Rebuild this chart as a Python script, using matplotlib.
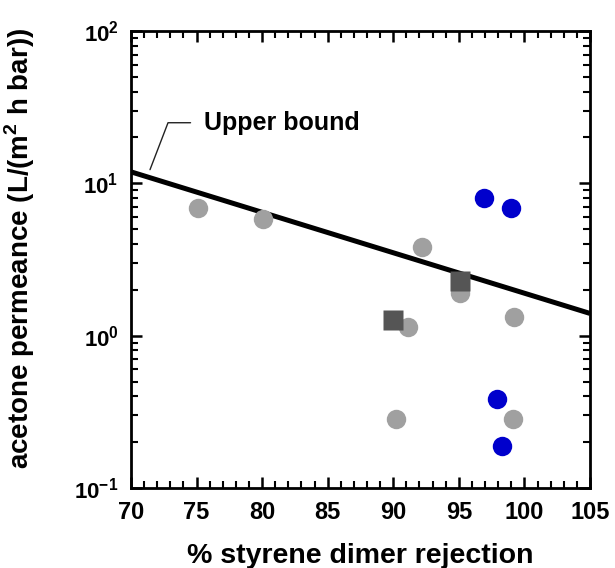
import numpy as np
import matplotlib
matplotlib.use("Agg")
import matplotlib.pyplot as plt
from matplotlib.ticker import MultipleLocator, LogLocator, NullFormatter, FuncFormatter

# ---- data ----
gray_x = [75.1, 80.1, 92.2, 95.1, 91.15, 99.2, 90.2, 99.1]
gray_y = [6.9, 5.8, 3.84, 1.90, 1.14, 1.33, 0.286, 0.286]

blue_x = [96.9, 99.0, 97.9, 98.3]
blue_y = [8.05, 6.85, 0.382, 0.188]

square_x = [90.0, 95.1]
square_y = [1.27, 2.29]

bound_x = [70, 105]
bound_y = [11.9, 1.40]

xlim = (70, 105)
ylim = (0.1, 100)
xticks = [70, 75, 80, 85, 90, 95, 100, 105]

plt.rcParams['font.family'] = ['Liberation Sans', 'DejaVu Sans']
plt.rcParams['font.weight'] = 'bold'
plt.rcParams['mathtext.fontset'] = 'custom'
plt.rcParams['mathtext.bf'] = 'Liberation Sans:bold'
plt.rcParams['mathtext.rm'] = 'Liberation Sans:bold'

fig = plt.figure(figsize=(6.15, 5.68), dpi=100)
ax = fig.add_axes([0.2130, 0.1408, 0.7463, 0.8046])

ax.plot(bound_x, bound_y, color='black', lw=3.6, solid_capstyle='butt', zorder=3)
ax.plot(gray_x, gray_y, 'o', ls='none', ms=14, color='#a0a0a0', mec='none', zorder=4)
ax.plot(blue_x, blue_y, 'o', ls='none', ms=14, color='#0000cc', mec='none', zorder=4)
ax.plot(square_x, square_y, 's', ls='none', ms=15, color='#555555', mec='none', zorder=5)

ax.set_yscale('log')
ax.set_xlim(*xlim)
ax.set_ylim(*ylim)
ax.set_xticks(xticks)
ax.xaxis.set_minor_locator(MultipleLocator(1))
ax.yaxis.set_major_locator(LogLocator(base=10, numticks=10))
ax.yaxis.set_minor_locator(LogLocator(base=10, subs=np.arange(2, 10), numticks=20))
ax.yaxis.set_minor_formatter(NullFormatter())
ax.yaxis.set_major_formatter(FuncFormatter(lambda v, p: r'$\mathbf{10^{%d}}$' % int(round(np.log10(v)))))

for s in ax.spines.values():
    s.set_linewidth(2.0)

ax.tick_params(which='both', direction='in', top=True, right=True)
ax.tick_params(which='major', length=8, width=1.8, pad=9)
ax.tick_params(which='minor', length=5, width=1.5)
ax.tick_params(axis='x', which='major', labelsize=17)
ax.tick_params(axis='y', which='major', labelsize=16)
for lab in ax.get_xticklabels():
    lab.set_fontweight('bold')

ax.set_xlabel('% styrene dimer rejection', fontsize=20.5, fontweight='bold', labelpad=14)
ax.set_ylabel(r'acetone permeance (L/(m$^{\mathbf{2}}$ h bar))', fontsize=20, fontweight='bold')
ax.yaxis.set_label_coords(-0.205, 0.525)

ax.annotate('Upper bound', xy=(71.45, 12.3), xytext=(75.6, 25),
            fontsize=18, fontweight='bold', va='center', ha='left',
            arrowprops=dict(arrowstyle='-', color='#222222', lw=1.0,
                            connectionstyle='angle,angleA=180,angleB=69,rad=0',
                            relpos=(0, 0.5), shrinkA=8, shrinkB=0))

fig.savefig('out.png', dpi=100)
